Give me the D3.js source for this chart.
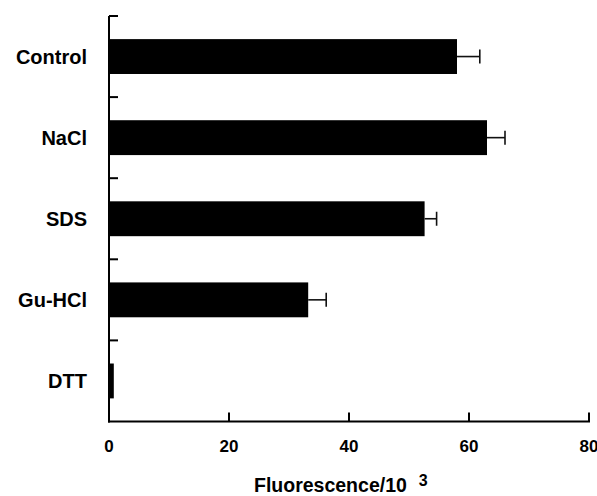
<!DOCTYPE html>
<html>
<head>
<meta charset="utf-8">
<script src="https://cdn.jsdelivr.net/npm/d3@7"></script>
<style>
  body { margin: 0; background: #fff; }
  text { font-family: "Liberation Sans", Arial, sans-serif; font-weight: bold; fill: #000; }
</style>
</head>
<body>
<div id="chart"></div>
<script>
var categories = ["Control", "NaCl", "SDS", "Gu-HCl", "DTT"];
var values = [58.0, 63.0, 52.6, 33.2, 0.8];
var errors = [3.8, 3.0, 2.0, 3.0, 0];
var xTicks = [0, 20, 40, 60, 80];

var W = 597, H = 496;
var plotLeft = 109, plotRight = 589, plotTop = 16, plotBottom = 421.5;

var svg = d3.select("#chart").append("svg")
  .attr("width", W)
  .attr("height", H);

var x_scale = d3.scaleLinear()
  .domain([0, 80])
  .range([plotLeft, plotRight]);

var y_scale = d3.scaleBand()
  .domain(categories)
  .range([plotTop, plotBottom])
  .paddingInner(0.57)
  .paddingOuter(0.285);

var step = y_scale.step();

// bars
svg.selectAll(".bar")
  .data(categories)
  .enter().append("rect")
  .attr("class", "bar")
  .attr("x", x_scale(0))
  .attr("y", function(d) { return y_scale(d); })
  .attr("width", function(d, i) { return x_scale(values[i]) - x_scale(0); })
  .attr("height", y_scale.bandwidth())
  .attr("fill", "#000");

// error bars
var err = svg.selectAll(".err")
  .data(categories.filter(function(d, i) { return errors[i] > 0; }))
  .enter().append("g")
  .attr("class", "err")
  .attr("stroke", "#111")
  .attr("stroke-width", 1.6);

err.append("line")
  .attr("x1", function(d) { return x_scale(values[categories.indexOf(d)]); })
  .attr("x2", function(d) { var i = categories.indexOf(d); return x_scale(values[i] + errors[i]); })
  .attr("y1", function(d) { return y_scale(d) + y_scale.bandwidth() / 2; })
  .attr("y2", function(d) { return y_scale(d) + y_scale.bandwidth() / 2; });

err.append("line")
  .attr("x1", function(d) { var i = categories.indexOf(d); return x_scale(values[i] + errors[i]); })
  .attr("x2", function(d) { var i = categories.indexOf(d); return x_scale(values[i] + errors[i]); })
  .attr("y1", function(d) { return y_scale(d) + y_scale.bandwidth() / 2 - 7; })
  .attr("y2", function(d) { return y_scale(d) + y_scale.bandwidth() / 2 + 7; });

// axes lines
svg.append("line")
  .attr("x1", plotLeft).attr("x2", plotLeft)
  .attr("y1", plotTop).attr("y2", plotBottom + 1)
  .attr("stroke", "#000").attr("stroke-width", 2);

svg.append("line")
  .attr("x1", plotLeft - 1).attr("x2", plotRight + 1)
  .attr("y1", plotBottom).attr("y2", plotBottom)
  .attr("stroke", "#000").attr("stroke-width", 2);

// y ticks at the top of each band
svg.selectAll(".ytick")
  .data(categories)
  .enter().append("line")
  .attr("x1", plotLeft).attr("x2", plotLeft + 9)
  .attr("y1", function(d) { return y_scale(d) - step * 0.285; })
  .attr("y2", function(d) { return y_scale(d) - step * 0.285; })
  .attr("stroke", "#000").attr("stroke-width", 2);

// category labels
svg.selectAll(".ylab")
  .data(categories)
  .enter().append("text")
  .attr("x", 87)
  .attr("y", function(d) { return y_scale(d) + y_scale.bandwidth() / 2; })
  .attr("dy", "0.36em")
  .attr("text-anchor", "end")
  .style("font-size", "20px")
  .text(function(d) { return d; });

// x ticks (pointing up)
svg.selectAll(".xtick")
  .data(xTicks)
  .enter().append("line")
  .attr("x1", function(d) { return x_scale(d); })
  .attr("x2", function(d) { return x_scale(d); })
  .attr("y1", plotBottom).attr("y2", plotBottom - 9)
  .attr("stroke", "#000").attr("stroke-width", 2);

svg.selectAll(".xlab")
  .data(xTicks)
  .enter().append("text")
  .attr("x", function(d) { return x_scale(d); })
  .attr("y", 452)
  .attr("text-anchor", "middle")
  .style("font-size", "17px")
  .text(function(d) { return d; });

// axis title
var title = svg.append("text")
  .attr("x", 254)
  .attr("y", 492)
  .style("font-size", "19.5px");
title.append("tspan").text("Fluorescence/10");
title.append("tspan")
  .attr("dx", 12)
  .attr("dy", -6)
  .style("font-size", "16px")
  .text("3");
</script>
</body>
</html>
